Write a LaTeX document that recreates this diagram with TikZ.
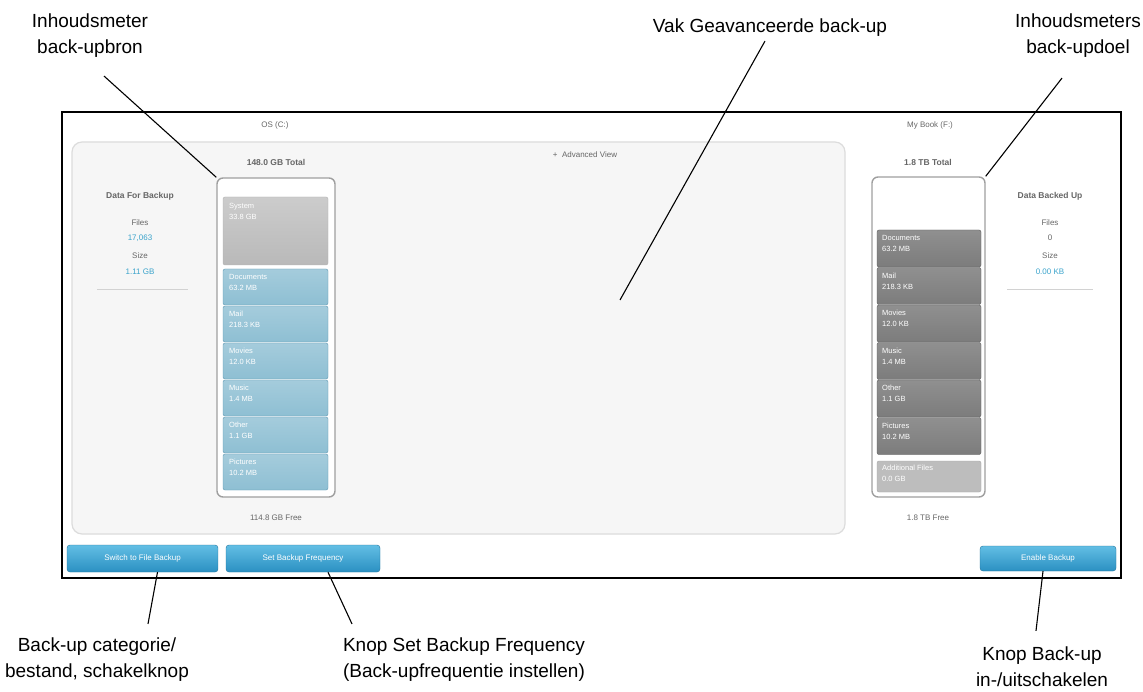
\documentclass[tikz,border=0pt]{standalone}
\usepackage{fontspec}
\setmainfont{Liberation Sans}
\usetikzlibrary{positioning}
\definecolor{panelfill}{HTML}{F6F6F6}
\definecolor{panelline}{HTML}{DCDCDC}
\definecolor{segblue}{HTML}{8EBFD3}
\definecolor{segblueD}{HTML}{5F98B2}
\definecolor{segdark}{HTML}{7C7C7C}
\definecolor{segdarkD}{HTML}{5C5C5C}
\definecolor{seglight}{HTML}{BDBDBD}
\definecolor{btntop}{HTML}{62BEE4}
\definecolor{btnbot}{HTML}{2B90C2}
\definecolor{infoblue}{HTML}{3AA3CB}
\definecolor{uitext}{HTML}{666666}

\begin{document}
\begin{tikzpicture}[x=1pt,y=-1pt,
  callout/.style={font=\fontsize{19}{26}\selectfont,align=center,inner sep=0pt},
  leader/.style={line width=1.1pt},
  ui/.style={font=\fontsize{8}{9}\selectfont,text=uitext,inner sep=0pt},
  uibold/.style={ui,font=\fontsize{8.5}{9}\selectfont\bfseries},
  info/.style={ui,text=infoblue},
  gauge/.style={draw=gray!75,fill=white,line width=1.4pt,rounded corners=6pt,inner sep=0pt},
  blueseg/.style={draw=segblueD,top color=segblue!80!white,bottom color=segblue,rounded corners=2pt},
  darkseg/.style={draw=segdarkD,top color=segdark!85!white,bottom color=segdark,rounded corners=2pt},
  segtxt/.style={font=\fontsize{7.5}{11}\selectfont,text=white,align=left,anchor=north west,inner sep=0pt},
  button/.style={draw=btnbot!80!black,top color=btntop,bottom color=btnbot,rounded corners=3pt,
    text=white,font=\fontsize{8}{9}\selectfont,inner sep=0pt}]
  \useasboundingbox (0,0) rectangle (1143,692);
  % window and advanced panel
  \draw[line width=2.5pt] (62,112) rectangle (1121,578);
  \draw[draw=panelline,fill=panelfill,line width=1.2pt,rounded corners=10pt] (72,142) rectangle (845,534);
  \node[ui] (advview) at (585,155) {+\ \ Advanced View};

  % source gauge
  \node[ui] (srcname) at (275,125) {OS (C:)};
  \node[uibold] (srctotal) at (276,162) {148.0 GB Total};
  \node[gauge,minimum width=118pt,minimum height=319pt] (srcg) at (276,337.5) {};
  \draw[draw=gray!60,top color=gray!40,bottom color=gray!55,rounded corners=2pt] (223,197) rectangle (328,265);
  \node[segtxt] (srcsys) at (229,203) {System\\33.8 GB};
  \foreach \n/\v [count=\i] in {Documents/63.2 MB,Mail/218.3 KB,Movies/12.0 KB,Music/1.4 MB,Other/1.1 GB,Pictures/10.2 MB}{
    \pgfmathsetmacro\ytop{269+37*(\i-1)}
    \draw[blueseg] (223,\ytop) rectangle ++(105,36);
    \node[segtxt] (ls\i) at (229,\ytop+5) {\n\\\v};
  }
  \node[ui] (srcfree) at (276,518) {114.8 GB Free};

  % data for backup
  \node[uibold] (dfb) at (140,196) {Data For Backup};
  \node[ui] (dfbfiles) at (140,223) {Files};
  \node[info] (dfbfn) at (140,238) {17,063};
  \node[ui] (dfbsize) at (140,256) {Size};
  \node[info] (dfbsn) at (140,272) {1.11 GB};
  \draw[gray!35,line width=1pt] (97,290) -- (188,290);

  % destination gauge
  \node[ui] (dstname) at (930,125) {My Book (F:)};
  \node[uibold] (dsttotal) at (928,162) {1.8 TB Total};
  \node[gauge,minimum width=113pt,minimum height=320pt] (dstg) at (928.5,337) {};
  \foreach \n/\v [count=\i] in {Documents/63.2 MB,Mail/218.3 KB,Movies/12.0 KB,Music/1.4 MB,Other/1.1 GB,Pictures/10.2 MB}{
    \pgfmathsetmacro\ytop{230+37.5*(\i-1)}
    \draw[darkseg] (877,\ytop) rectangle ++(104,37);
    \node[segtxt] (rs\i) at (882,\ytop+5) {\n\\\v};
  }
  \draw[draw=gray!70,fill=seglight,rounded corners=2pt] (877,461) rectangle (981,492);
  \node[segtxt] (rsadd) at (882,465) {Additional Files\\0.0 GB};
  \node[ui] (dstfree) at (928,518) {1.8 TB Free};

  % data backed up
  \node[uibold] (dbu) at (1050,196) {Data Backed Up};
  \node[ui] (dbufiles) at (1050,223) {Files};
  \node[ui] (dbufn) at (1050,238) {0};
  \node[ui] (dbusize) at (1050,256) {Size};
  \node[info] (dbusn) at (1050,272) {0.00 KB};
  \draw[gray!35,line width=1pt] (1007,290) -- (1093,290);

  % buttons
  \node[button,minimum width=151pt,minimum height=27pt] (btnsw) at (142.5,558.5) {Switch to File Backup};
  \node[button,minimum width=154pt,minimum height=27pt] (btnfreq) at (303,558.5) {Set Backup Frequency};
  \node[button,minimum width=136pt,minimum height=25pt] (btnen) at (1048,558.5) {Enable Backup};

  % callouts
  \node[callout] (lblsrc) at (90,36) {Inhoudsmeter\\back-upbron};
  \node[callout] (lbladv) at (770,28) {Vak Geavanceerde back-up};
  \node[callout] (lbldst) at (1078,36) {Inhoudsmeters\\back-updoel};
  \node[callout] (lblsw) at (97,660) {Back-up categorie/\\bestand, schakelknop};
  \node[callout] (lblfreq) at (464,660) {Knop Set Backup Frequency\\(Back-upfrequentie instellen)};
  \node[callout] (lblen) at (1042,667) {Knop Back-up\\in-/uitschakelen};
  \coordinate (advpt) at (620,300);
  \draw[leader] ([xshift=14pt,yshift=-18pt]lblsrc.south) -- (srcg.north west);
  \draw[leader] ([xshift=-5pt,yshift=-4pt]lbladv.south) -- (advpt);
  \draw[leader] ([xshift=-16pt,yshift=-20pt]lbldst.south) -- (dstg.north east);
  \draw[leader] ([xshift=51pt,yshift=14pt]lblsw.north) -- ([xshift=15pt]btnsw.south);
  \draw[leader] ([xshift=-112pt,yshift=14pt]lblfreq.north) -- ([xshift=25pt]btnfreq.south);
  \draw[leader] ([xshift=-6pt,yshift=16pt]lblen.north) -- ([xshift=-5pt]btnen.south);
\end{tikzpicture}
\end{document}
